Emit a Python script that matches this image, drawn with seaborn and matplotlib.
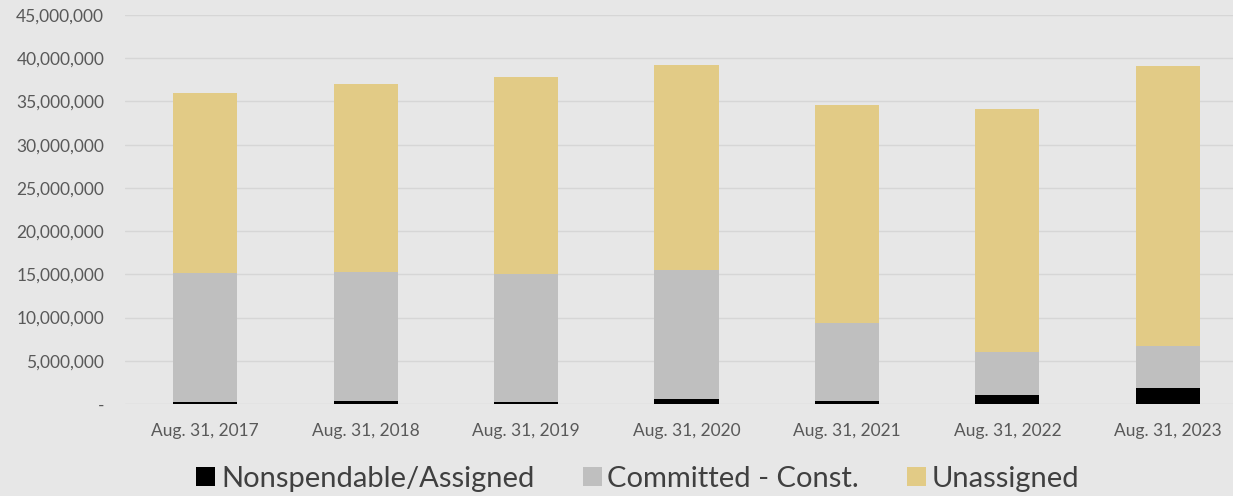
import matplotlib
matplotlib.use("Agg")
import matplotlib.pyplot as plt
import matplotlib.ticker as mticker
from matplotlib.patches import Patch
import numpy as np
import pandas as pd
import seaborn as sns

# Fund balance components by fiscal year end
years = ["Aug. 31, 2017", "Aug. 31, 2018", "Aug. 31, 2019", "Aug. 31, 2020",
         "Aug. 31, 2021", "Aug. 31, 2022", "Aug. 31, 2023"]
nonspendable = [200_000, 350_000, 200_000, 600_000, 400_000, 1_050_000, 1_850_000]
committed = [15_000_000, 14_950_000, 14_800_000, 14_900_000, 9_000_000, 4_950_000, 4_900_000]
unassigned = [20_800_000, 21_700_000, 22_800_000, 23_700_000, 25_200_000, 28_100_000, 32_400_000]

series_names = ["Nonspendable/Assigned", "Committed - Const.", "Unassigned"]
colors = ["#000000", "#bfbfbf", "#e2cb86"]

df = pd.DataFrame({
    "year": years,
    "Nonspendable/Assigned": nonspendable,
    "Committed - Const.": committed,
    "Unassigned": unassigned,
})
# cumulative heights for stacking (drawn back to front)
df["lvl1"] = df["Nonspendable/Assigned"]
df["lvl2"] = df["lvl1"] + df["Committed - Const."]
df["lvl3"] = df["lvl2"] + df["Unassigned"]

sns.set_theme(style="white")
plt.rcParams["font.family"] = ["Lato", "DejaVu Sans"]

bg = "#e7e7e7"
fig = plt.figure(figsize=(12.33, 4.96), dpi=100, facecolor=bg)
ax = fig.add_axes([125 / 1233, 92 / 496, 1123 / 1233, 389 / 496])
ax.set_facecolor(bg)

for col, color in zip(["lvl3", "lvl2", "lvl1"], colors[::-1]):
    sns.barplot(data=df, x="year", y=col, color=color, width=0.4,
                saturation=1, ax=ax, zorder=3, edgecolor="none")

ax.set_ylim(0, 45_000_000)
ax.set_xlim(-0.5, len(years) - 0.5)
ax.yaxis.set_major_locator(mticker.MultipleLocator(5_000_000))
ax.yaxis.set_major_formatter(mticker.FuncFormatter(
    lambda v, _: "-" if v == 0 else f"{v:,.0f}"))
ax.grid(axis="y", color="#d6d6d6", linewidth=1, zorder=0)
ax.set_axisbelow(True)
for s in ax.spines.values():
    s.set_visible(False)
ax.set_xlabel("")
ax.set_ylabel("")
ax.tick_params(axis="y", length=0, pad=15, labelsize=12.5, labelcolor="#595959")
ax.tick_params(axis="x", length=0, pad=14, labelsize=12.5, labelcolor="#595959")

handles = [Patch(facecolor=c, edgecolor="none") for c in colors]
fig.legend(handles, series_names, loc="center", ncol=3,
           bbox_to_anchor=(638 / 1233, 17 / 496), frameon=False,
           fontsize=21, labelcolor="#404040", handlelength=0.65, handleheight=0.65,
           handletextpad=0.2, columnspacing=1.65)

fig.savefig("out.png", dpi=100, facecolor=bg)
